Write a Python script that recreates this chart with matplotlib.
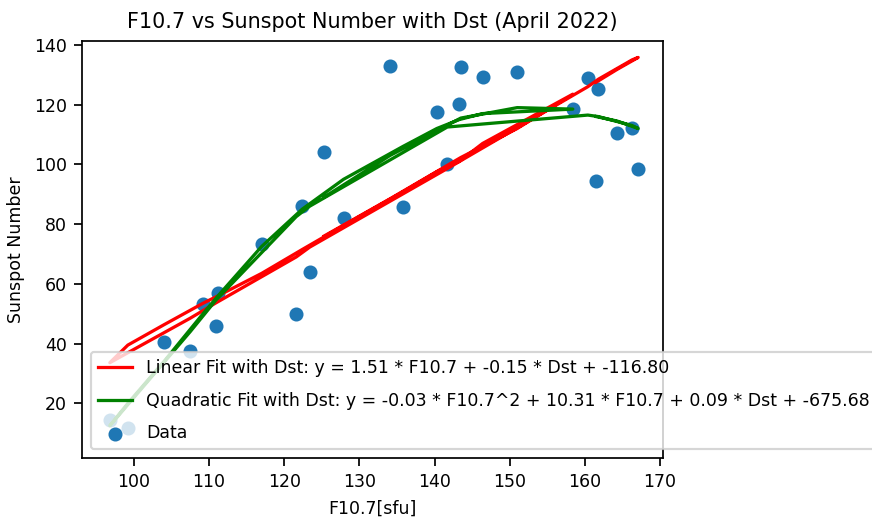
import matplotlib
matplotlib.use("Agg")
import matplotlib.pyplot as plt

# daily values for April 2022, in date order (lines are drawn in this order)
f107 = [125.3, 134.1, 143.5, 151.0, 158.4, 146.4, 143.3, 140.3, 135.8, 127.9,
        122.4, 117.0, 111.2, 109.2, 104.0, 99.2, 96.8, 107.5, 110.9, 121.6,
        123.4, 141.7, 160.4, 161.8, 166.3, 167.1, 164.3, 161.5]
ssn = [104.2, 133.0, 132.6, 131.0, 118.6, 129.3, 120.2, 117.6, 85.7, 82.1,
       86.1, 73.2, 56.9, 53.3, 40.5, 11.7, 14.4, 37.5, 45.9, 49.9,
       64.0, 100.1, 129.0, 125.3, 112.2, 98.5, 110.5, 94.5]

# model predictions
linear_pred = [76.0, 88.5, 102.3, 112.0, 123.5, 107.0, 101.0, 97.5, 90.8, 79.5,
               71.5, 63.5, 56.0, 53.5, 46.3, 39.5, 33.6, 48.5, 53.6, 69.0,
               72.3, 98.6, 126.0, 128.5, 135.0, 135.8, 131.8, 127.5]
quad_pred = [89.0, 103.0, 115.5, 119.0, 118.5, 117.0, 115.0, 112.0, 106.0, 95.0,
             85.0, 72.5, 56.0, 50.0, 34.0, 20.0, 12.5, 44.0, 54.5, 82.5,
             86.0, 112.5, 116.5, 116.0, 113.0, 112.0, 114.5, 116.0]

linear_label = "Linear Fit with Dst: y = 1.51 * F10.7 + -0.15 * Dst + -116.80"
quad_label = ("Quadratic Fit with Dst: y = -0.03 * F10.7^2 + 10.31 * F10.7 "
              "+ 0.09 * Dst + -675.68")

plt.rcParams["font.size"] = 8

fig = plt.figure(figsize=(872 / 156, 520 / 156), dpi=156)
ax = fig.add_axes([82 / 872, 1 - 458 / 520, (663 - 82) / 872, (458 - 41) / 520])

ax.plot(f107, linear_pred, color="red", label=linear_label)
ax.plot(f107, quad_pred, color="green", label=quad_label)
ax.scatter(f107, ssn, s=30, label="Data")

ax.set_xlim(93.1, 170.4)
ax.set_ylim(1.7, 141.3)
ax.set_xticks([100, 110, 120, 130, 140, 150, 160, 170])
ax.set_yticks([20, 40, 60, 80, 100, 120, 140])

ax.set_title("F10.7 vs Sunspot Number with Dst (April 2022)", fontsize=9.6)
ax.set_xlabel("F10.7[sfu]")
ax.set_ylabel("Sunspot Number")
ax.legend(loc="lower left", labelspacing=0.85, handlelength=2.0)

fig.savefig("out.png", dpi=156)
